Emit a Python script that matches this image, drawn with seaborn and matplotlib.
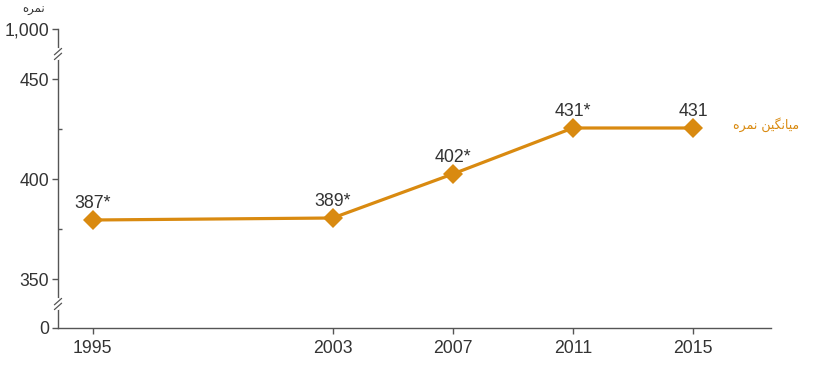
import matplotlib
matplotlib.use("Agg")
import matplotlib.pyplot as plt
import seaborn as sns
import pandas as pd

# ---- data ----
years = [1995, 2003, 2007, 2011, 2015]
plotted_scores = [379.5, 380.5, 402.5, 425.5, 425.5]   # vertical positions as drawn in the reference
point_labels = ["387*", "389*", "402*", "431*", "431"]
ytick_pos = [325.5, 350, 400, 450, 475]                 # broken axis: 0 and 1,000 squeezed in
ytick_labels = ["0", "350", "400", "450", "1,000"]
series_name = "ﻩﺮﻤﻧ ﻦﯿﮕﻧﺎﯿﻣ"   # میانگین نمره (visual-order Arabic presentation forms)
axis_title = "ﻩﺮﻤﻧ"            # نمره

df = pd.DataFrame({"year": years, "score": plotted_scores})

sns.set_style("ticks")
plt.rcParams["font.family"] = ["Liberation Sans", "DejaVu Sans"]

ORANGE = "#D98A10"
AX = "#555555"
TXT = "#333333"

fig = plt.figure(figsize=(8.13, 3.65), dpi=100)
ax = fig.add_axes([58 / 813, 1 - 328 / 365, (771 - 58) / 813, (328 - 29) / 365])

sns.lineplot(data=df, x="year", y="score", ax=ax, color=ORANGE, lw=2.3,
             marker="D", markersize=10, markeredgewidth=0, markerfacecolor=ORANGE)

for x, y, t in zip(years, plotted_scores, point_labels):
    ax.annotate(t, (x, y), xytext=(0, 6), textcoords="offset points",
                ha="center", va="bottom", fontsize=12.8, color=TXT)

ax.set_xlim(1993.85, 2017.6)
ax.set_ylim(325.5, 475)
ax.set_xticks(years)
ax.set_xticklabels([str(y) for y in years])
ax.set_yticks(ytick_pos)
ax.set_yticklabels(ytick_labels)
ax.set_yticks([375, 425], minor=True)
ax.tick_params(axis="both", which="major", colors=AX, labelcolor=TXT, labelsize=12.7,
               length=4.5, width=1)
ax.tick_params(axis="y", which="minor", direction="in", length=3, width=1, colors=AX)
ax.tick_params(axis="x", pad=4)
ax.tick_params(axis="y", pad=2)
ax.set_xlabel("")
ax.set_ylabel("")
for s in ["top", "right"]:
    ax.spines[s].set_visible(False)
for s in ["left", "bottom"]:
    ax.spines[s].set_color(AX)
    ax.spines[s].set_linewidth(1)

# axis break marks
for yb in [337.5, 462.5]:
    ax.plot([1993.85, 1993.85], [yb - 2.2, yb + 2.2], color="white", lw=3,
            clip_on=False, zorder=5)
    for dy in (-1.2, 1.2):
        ax.plot([1993.85 - 0.12, 1993.85 + 0.12], [yb + dy - 1.6, yb + dy + 1.6],
                color=AX, lw=0.9, clip_on=False, zorder=6)

# series label at right
ax.text(2016.34, 427, series_name, color=ORANGE, fontsize=9, ha="left", va="center",
        family=["DejaVu Sans"])
# axis title
fig.text(34 / 813, 1 - 9 / 365, axis_title, color=TXT, fontsize=8.5, ha="center",
         va="center", family=["DejaVu Sans"])

fig.savefig("out.png", dpi=100)
